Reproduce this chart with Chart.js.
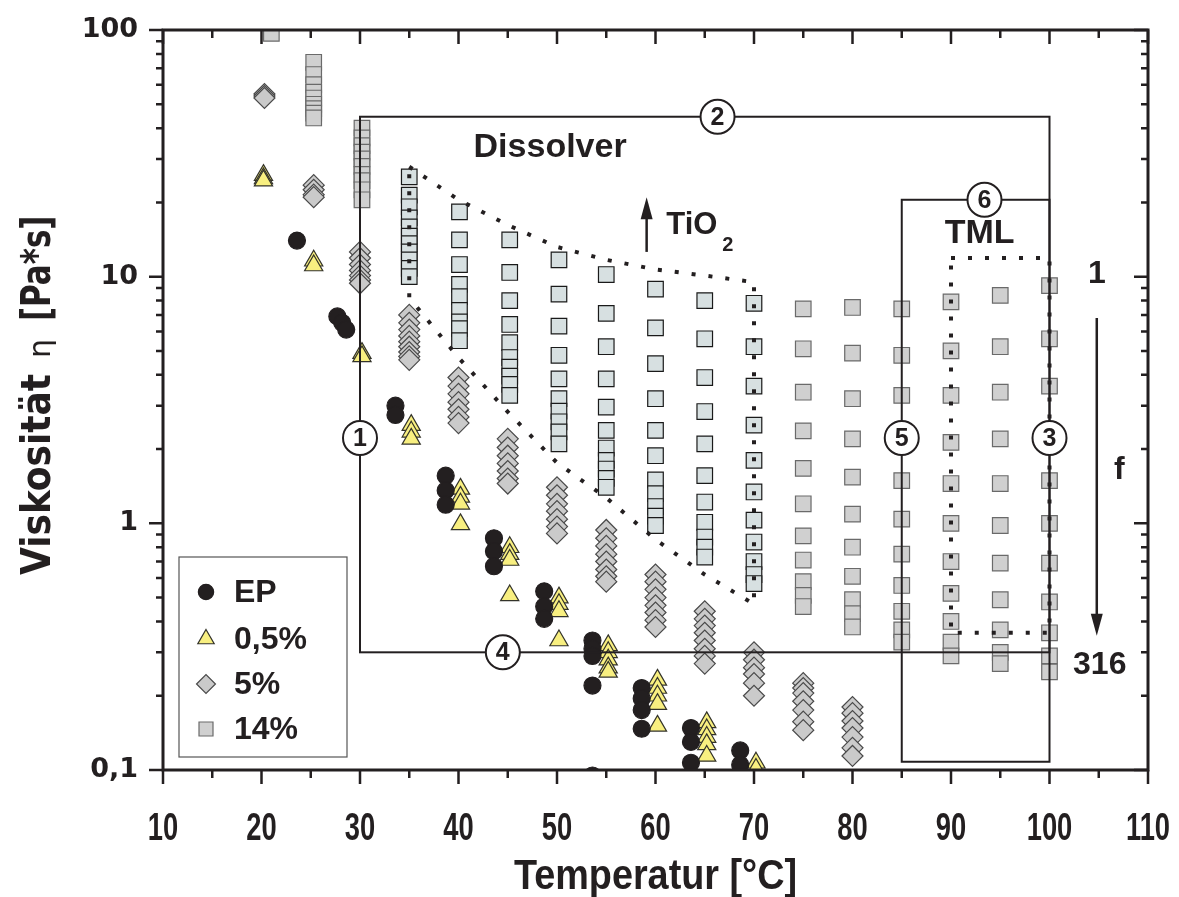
<!DOCTYPE html>
<html>
<head>
<meta charset="utf-8">
<script src="https://cdn.jsdelivr.net/npm/chart.js@4.4.1/dist/chart.umd.min.js"></script>
<style>
  html, body { margin: 0; padding: 0; background: #fff; }
  #wrap { width: 1179px; height: 897px; }
</style>
</head>
<body>
<div id="wrap"><canvas id="chart"></canvas></div>
<script>
// ---- data (temperature in °C, viscosity in Pa*s) ----
const xTicks = [10, 20, 30, 40, 50, 60, 70, 80, 90, 100, 110];
const yTicks = [0.1, 1, 10, 100];
const yTickLabels = ['0,1', '1', '10', '100'];

const epTemp = [23.6, 27.7, 28.2, 28.6, 33.6, 33.6, 38.7, 38.7, 38.7, 43.6, 43.6, 43.6,
  48.7, 48.7, 48.7, 53.6, 53.6, 53.6, 53.6, 53.6, 58.6, 58.6, 58.6, 58.6, 63.6, 63.6, 63.6, 68.6, 68.6];
const epVisc = [14, 6.9, 6.5, 6.1, 3.0, 2.75, 1.56, 1.36, 1.19, 0.87, 0.77, 0.67,
  0.53, 0.46, 0.41, 0.335, 0.31, 0.29, 0.22, 0.095, 0.215, 0.195, 0.175, 0.147, 0.148, 0.13, 0.107, 0.12, 0.105];

const p05Temp = [20.2, 20.2, 20.2, 25.3, 25.3, 30.2, 30.2, 35.2, 35.2, 35.2, 40.2, 40.2, 40.2, 40.2,
  45.2, 45.2, 45.2, 45.2, 50.2, 50.2, 50.2, 50.2, 55.2, 55.2, 55.2, 55.2, 55.2,
  60.2, 60.2, 60.2, 60.2, 60.2, 65.2, 65.2, 65.2, 65.2, 65.2, 70.2, 70.2];
const p05Visc = [25.8, 25, 24.5, 11.6, 11.1, 4.9, 4.75, 2.5, 2.35, 2.2, 1.38, 1.28, 1.2, 0.99,
  0.8, 0.75, 0.71, 0.51, 0.5, 0.47, 0.44, 0.335, 0.32, 0.3, 0.28, 0.26, 0.25,
  0.232, 0.215, 0.2, 0.185, 0.151, 0.156, 0.146, 0.136, 0.127, 0.114, 0.107, 0.101];

const p5Temp = [20.3, 20.3, 20.3, 25.3, 25.3, 25.3, 25.3,
  30, 30, 30, 30, 30, 30, 30,
  35, 35, 35, 35, 35, 35, 35, 35, 35,
  40, 40, 40, 40, 40, 40, 40,
  45, 45, 45, 45, 45, 45, 45,
  50, 50, 50, 50, 50, 50, 50,
  55, 55, 55, 55, 55, 55, 55, 55,
  60, 60, 60, 60, 60, 60, 60, 60,
  65, 65, 65, 65, 65, 65, 65, 65,
  70, 70, 70, 70, 70, 70,
  75, 75, 75, 75, 75, 75, 75,
  80, 80, 80, 80, 80, 80, 80];
const p5Visc = [55, 54, 53, 23.5, 22.5, 21.5, 21,
  12.6, 11.9, 11.2, 10.6, 10.1, 9.7, 9.4,
  7.0, 6.5, 6.1, 5.75, 5.45, 5.2, 4.95, 4.75, 4.6,
  3.9, 3.6, 3.35, 3.1, 2.9, 2.7, 2.55,
  2.2, 2.03, 1.88, 1.75, 1.63, 1.52, 1.45,
  1.4, 1.3, 1.2, 1.12, 1.04, 0.97, 0.91,
  0.94, 0.87, 0.81, 0.75, 0.7, 0.65, 0.61, 0.58,
  0.62, 0.58, 0.54, 0.5, 0.465, 0.435, 0.405, 0.38,
  0.44, 0.41, 0.385, 0.36, 0.335, 0.31, 0.29, 0.27,
  0.3, 0.28, 0.26, 0.245, 0.225, 0.2,
  0.225, 0.215, 0.205, 0.19, 0.175, 0.157, 0.145,
  0.18, 0.17, 0.158, 0.148, 0.136, 0.123, 0.114];

const p14Temp = [21,
  25.3, 25.3, 25.3, 25.3, 25.3, 25.3, 25.3, 25.3, 25.3,
  30.2, 30.2, 30.2, 30.2, 30.2, 30.2, 30.2, 30.2, 30.2, 30.2,
  35, 35, 35, 35, 35, 35, 35, 35, 35, 35, 35,
  40.1, 40.1, 40.1, 40.1, 40.1, 40.1, 40.1, 40.1, 40.1,
  45.2, 45.2, 45.2, 45.2, 45.2, 45.2, 45.2, 45.2, 45.2, 45.2,
  50.2, 50.2, 50.2, 50.2, 50.2, 50.2, 50.2, 50.2, 50.2, 50.2,
  55, 55, 55, 55, 55, 55, 55, 55, 55, 55, 55,
  60, 60, 60, 60, 60, 60, 60, 60, 60, 60, 60,
  65, 65, 65, 65, 65, 65, 65, 65, 65, 65, 65,
  70, 70, 70, 70, 70, 70, 70, 70, 70, 70, 70,
  75, 75, 75, 75, 75, 75, 75, 75, 75, 75, 75,
  80, 80, 80, 80, 80, 80, 80, 80, 80, 80, 80,
  85, 85, 85, 85, 85, 85, 85, 85, 85, 85, 85,
  90, 90, 90, 90, 90, 90, 90, 90, 90, 90, 90,
  95, 95, 95, 95, 95, 95, 95, 95, 95, 95, 95,
  100, 100, 100, 100, 100, 100, 100, 100, 100, 100, 100];
const p14Visc = [97,
  74, 66, 60, 56, 53, 50, 48, 46, 44,
  40, 36.5, 34, 32, 30, 28, 26, 24.5, 22.5, 20.5,
  25.4, 21.4, 19.2, 17.3, 15.9, 14.6, 13.6, 12.6, 11.7, 10.8, 10.0,
  18.3, 14.1, 11.2, 9.3, 8.3, 7.3, 6.55, 6.15, 5.5,
  14.1, 10.4, 8.0, 6.4, 5.4, 4.7, 4.3, 3.95, 3.66, 3.3,
  11.7, 8.5, 6.3, 4.8, 3.85, 3.2, 2.85, 2.58, 2.35, 2.1,
  10.2, 7.1, 5.2, 3.85, 2.96, 2.38, 2.02, 1.8, 1.66, 1.52, 1.4,
  8.9, 6.2, 4.44, 3.2, 2.38, 1.88, 1.5, 1.32, 1.17, 1.07, 0.98,
  8.0, 5.6, 3.9, 2.84, 2.1, 1.56, 1.22, 1.01, 0.88, 0.8, 0.73,
  7.8, 5.2, 3.6, 2.5, 1.8, 1.34, 1.03, 0.84, 0.7, 0.62, 0.57,
  7.4, 5.1, 3.4, 2.37, 1.67, 1.2, 0.89, 0.71, 0.58, 0.51, 0.46,
  7.5, 4.9, 3.2, 2.2, 1.54, 1.09, 0.8, 0.61, 0.49, 0.43, 0.38,
  7.4, 4.8, 3.3, 2.25, 1.49, 1.04, 0.75, 0.56, 0.44, 0.37, 0.33,
  7.9, 5.0, 3.3, 2.13, 1.45, 1.0, 0.7, 0.52, 0.4, 0.33, 0.29,
  8.4, 5.2, 3.4, 2.2, 1.45, 0.98, 0.69, 0.49, 0.37, 0.3, 0.27,
  9.2, 5.6, 3.6, 2.23, 1.49, 1.0, 0.69, 0.48, 0.36, 0.29, 0.25];

// process windows (data coords): Dissolver box 1-4, TML box 5-6
const dissolverBox = { x0: 30, x1: 100, yLow: 0.3, yHigh: 44.5 };
const tmlBox = { x0: 85, x1: 100, yLow: 0.108, yHigh: 20.5 };
const tmlDotted = { x0: 90, x1: 100, yLow: 0.36, yHigh: 11.9 };
const tio2Top = [[35, 27.9], [40, 20.5], [45, 16.2], [50, 13.2], [55, 11.7], [60, 10.7], [65, 10.1], [70, 9.5]];
const tio2Bottom = [[70, 0.47], [65, 0.62], [60, 0.86], [55, 1.27], [50, 1.76], [45, 2.83], [40, 4.7], [35, 8.2]];

const INK = '#231f20';
const ARIAL = '"Liberation Sans", Arial, sans-serif';
const pairs = (xs, ys) => xs.map((t, i) => ({ x: t, y: ys[i] }));
const inDissolver = ctx => ctx.raw && ctx.raw.x >= 34 && ctx.raw.x <= 71;

const seriesStyle = [
  { label: 'EP', pointStyle: 'circle', radius: 8.5, bg: INK, border: INK },
  { label: '0,5%', pointStyle: 'triangle', radius: 10.5, bg: '#f8ef80', border: '#33332a' },
  { label: '5%', pointStyle: 'rectRot', radius: 10.5, bg: '#cacaca', border: '#4a4a4a' },
  { label: '14%', pointStyle: 'rect', radius: 11, bg: '#d0d0d0', border: '#6a6a6a' }
];

function makeSet(style, data) {
  return {
    label: style.label,
    data: data,
    pointStyle: style.pointStyle,
    pointRadius: style.radius,
    pointBackgroundColor: style.bg,
    pointBorderColor: style.border,
    pointBorderWidth: 1.2,
    showLine: false
  };
}

const set14 = makeSet(seriesStyle[3], pairs(p14Temp, p14Visc));
set14.pointBackgroundColor = c => inDissolver(c) ? '#d7e0e1' : '#d0d0d0';
set14.pointBorderColor = c => inDissolver(c) ? '#1a1a1a' : '#6a6a6a';

const datasets = [
  makeSet(seriesStyle[0], pairs(epTemp, epVisc)),
  makeSet(seriesStyle[1], pairs(p05Temp, p05Visc)),
  makeSet(seriesStyle[2], pairs(p5Temp, p5Visc)),
  set14
];

function badge(ctx, cx, cy, txt) {
  ctx.save();
  ctx.setLineDash([]);
  ctx.beginPath();
  ctx.arc(cx, cy, 17, 0, Math.PI * 2);
  ctx.fillStyle = '#fff';
  ctx.fill();
  ctx.lineWidth = 2;
  ctx.strokeStyle = INK;
  ctx.stroke();
  ctx.fillStyle = INK;
  ctx.font = 'bold 25px ' + ARIAL;
  ctx.textAlign = 'center';
  ctx.textBaseline = 'middle';
  ctx.fillText(txt, cx, cy + 1);
  ctx.restore();
}

function arrow(ctx, x, yFrom, yTo) {
  const dir = yTo < yFrom ? -1 : 1;
  ctx.save();
  ctx.setLineDash([]);
  ctx.strokeStyle = INK; ctx.fillStyle = INK; ctx.lineWidth = 2.5;
  ctx.beginPath(); ctx.moveTo(x, yFrom); ctx.lineTo(x, yTo - dir * 18); ctx.stroke();
  ctx.beginPath(); ctx.moveTo(x, yTo); ctx.lineTo(x - 6, yTo - dir * 22); ctx.lineTo(x + 6, yTo - dir * 22);
  ctx.closePath(); ctx.fill();
  ctx.restore();
}

// text squeezed horizontally, to imitate the narrow bold face of the original
function narrowText(ctx, txt, x, y, font, squeeze, align) {
  ctx.save();
  ctx.font = font;
  ctx.textAlign = align || 'center';
  ctx.textBaseline = 'middle';
  ctx.translate(x, y);
  ctx.scale(squeeze, 1);
  ctx.fillText(txt, 0, 0);
  ctx.restore();
}

const decor = {
  id: 'decor',
  afterDatasetsDraw(chart) {
    const { ctx, scales: { x, y } } = chart;
    const px = v => x.getPixelForValue(v), py = v => y.getPixelForValue(v);
    ctx.save();
    ctx.strokeStyle = INK;
    ctx.lineWidth = 2;
    // solid windows
    let b = dissolverBox;
    ctx.strokeRect(px(b.x0), py(b.yHigh), px(b.x1) - px(b.x0), py(b.yLow) - py(b.yHigh));
    b = tmlBox;
    ctx.strokeRect(px(b.x0), py(b.yHigh), px(b.x1) - px(b.x0), py(b.yLow) - py(b.yHigh));

    // dotted outlines
    ctx.setLineDash([4, 13]);
    ctx.lineWidth = 4;
    ctx.lineCap = 'butt';
    ctx.beginPath();
    tio2Top.concat(tio2Bottom).forEach(([t, v], i) => {
      if (i === 0) ctx.moveTo(px(t), py(v)); else ctx.lineTo(px(t), py(v));
    });
    ctx.closePath();
    ctx.stroke();
    b = tmlDotted;
    ctx.beginPath();
    ctx.rect(px(b.x0), py(b.yHigh), px(b.x1) - px(b.x0), py(b.yLow) - py(b.yHigh));
    ctx.stroke();
    ctx.setLineDash([]);

    // window labels
    badge(ctx, px(30), py(2.22), '1');
    badge(ctx, px(66.3), py(dissolverBox.yHigh), '2');
    badge(ctx, px(100), py(2.22), '3');
    badge(ctx, px(44.5), py(dissolverBox.yLow), '4');
    badge(ctx, px(85), py(2.22), '5');
    badge(ctx, px(93.4), py(tmlBox.yHigh), '6');

    ctx.fillStyle = INK;
    ctx.textAlign = 'center';
    ctx.textBaseline = 'middle';
    ctx.font = 'bold 34px ' + ARIAL;
    ctx.fillText('Dissolver', px(49.3), py(33.2));
    ctx.fillText('TML', px(92.9), py(15.0));

    // TiO2 arrow and label
    arrow(ctx, px(59.1), py(12.6), py(21));
    ctx.textAlign = 'left';
    ctx.font = 'bold 31px ' + ARIAL;
    ctx.fillText('TiO', px(61.1), py(16.2));
    ctx.font = 'bold 20px ' + ARIAL;
    ctx.fillText('2', px(61.1) + 56, py(13.4));

    // frequency arrow on the right
    ctx.textAlign = 'center';
    ctx.font = 'bold 32px ' + ARIAL;
    ctx.fillText('1', px(104.8), py(10.2));
    ctx.fillText('f', px(107.1), py(1.64));
    ctx.fillText('316', px(105.1), py(0.266));
    arrow(ctx, px(104.8), py(6.8), py(0.35));
    ctx.restore();
  },
  afterDraw(chart) {
    const { ctx, chartArea: a, scales: { x, y } } = chart;
    ctx.save();
    ctx.strokeStyle = INK;
    ctx.lineWidth = 3;
    ctx.strokeRect(a.left, a.top, a.right - a.left, a.bottom - a.top);

    // tick marks: outward on left/bottom, inward on top/right
    ctx.lineWidth = 2.5;
    ctx.beginPath();
    for (let t = 10; t <= 110; t += 5) {
      const xp = x.getPixelForValue(t);
      const len = t % 10 === 0 ? 14 : 8;
      ctx.moveTo(xp, a.bottom); ctx.lineTo(xp, a.bottom + len);
      ctx.moveTo(xp, a.top); ctx.lineTo(xp, a.top + len);
    }
    [0.1, 1, 10].forEach(dec => {
      for (let m = 1; m <= 10; m++) {
        const v = dec * m;
        if (m === 10 && dec !== 10) continue;
        const yp = y.getPixelForValue(v);
        const len = (m === 1 || m === 10) ? 14 : 7;
        ctx.moveTo(a.left, yp); ctx.lineTo(a.left - len, yp);
        ctx.moveTo(a.right, yp); ctx.lineTo(a.right - len, yp);
      }
    });
    ctx.stroke();

    // x tick labels (narrow bold)
    ctx.fillStyle = INK;
    xTicks.forEach(t => {
      narrowText(ctx, String(t), x.getPixelForValue(t), a.bottom + 59, 'bold 39px ' + ARIAL, 0.7);
    });

    // axis titles
    narrowText(ctx, 'Temperatur [°C]', (a.left + a.right) / 2, 877, 'bold 42px ' + ARIAL, 0.9);

    ctx.save();
    ctx.translate(40, 575);
    ctx.rotate(-Math.PI / 2);
    ctx.textAlign = 'left';
    ctx.textBaseline = 'middle';
    ctx.font = 'bold 40px "DejaVu Sans Condensed", sans-serif';
    ctx.fillText('Viskosität', 0, 0);
    let w = ctx.measureText('Viskosität').width;
    ctx.font = '30px "DejaVu Sans", sans-serif';
    ctx.fillText('η', w + 16, 2);
    w += 16 + ctx.measureText('η').width + 18;
    ctx.scale(0.86, 1);
    ctx.font = 'bold 40px "DejaVu Sans Condensed", sans-serif';
    ctx.fillText('[Pa*s]', w / 0.86, 0);
    ctx.restore();

    // legend box, inside the plot at lower left
    const lx = a.left + 16, ly = a.bottom - 213;
    ctx.lineWidth = 1.2;
    ctx.strokeStyle = '#555';
    ctx.strokeRect(lx, ly, 168, 200);
    const rowY = [35, 82, 127, 172];
    seriesStyle.forEach((s, i) => {
      ctx.fillStyle = s.bg;
      ctx.strokeStyle = s.border;
      ctx.lineWidth = 1.2;
      Chart.helpers.drawPoint(ctx, { pointStyle: s.pointStyle, radius: s.radius * 0.9, rotation: 0, borderWidth: 1.2 },
        lx + 27, ly + rowY[i]);
      ctx.fillStyle = INK;
      ctx.textAlign = 'left';
      ctx.textBaseline = 'middle';
      ctx.font = 'bold 32px ' + ARIAL;
      ctx.fillText(s.label, lx + 55, ly + rowY[i] + 1);
    });
    ctx.restore();
  }
};

new Chart(document.getElementById('chart'), {
  type: 'scatter',
  data: { datasets: datasets },
  options: {
    responsive: true,
    maintainAspectRatio: false,
    animation: false,
    devicePixelRatio: 1,
    layout: { padding: { top: 30, right: 31, left: 0, bottom: 0 } },
    plugins: { legend: { display: false }, tooltip: { enabled: false } },
    scales: {
      x: {
        type: 'linear',
        min: 10, max: 110,
        grid: { display: false, drawTicks: false },
        border: { display: false },
        ticks: { display: false, stepSize: 10 },
        afterFit: s => { s.height = 127; s.paddingLeft = 0; s.paddingRight = 0; }
      },
      y: {
        type: 'logarithmic',
        min: 0.1, max: 100,
        grid: { display: false, drawTicks: true, tickLength: 14 },
        border: { display: false },
        afterBuildTicks: s => { s.ticks = yTicks.map(v => ({ value: v })); },
        ticks: {
          color: INK,
          padding: 11,
          callback: v => yTickLabels[yTicks.indexOf(v)] ?? '',
          font: { family: '"DejaVu Sans", sans-serif', weight: 'bold', size: 27 }
        },
        afterFit: s => { s.width = 163; s.paddingTop = 0; s.paddingBottom = 0; }
      }
    }
  },
  plugins: [decor]
});
</script>
</body>
</html>
